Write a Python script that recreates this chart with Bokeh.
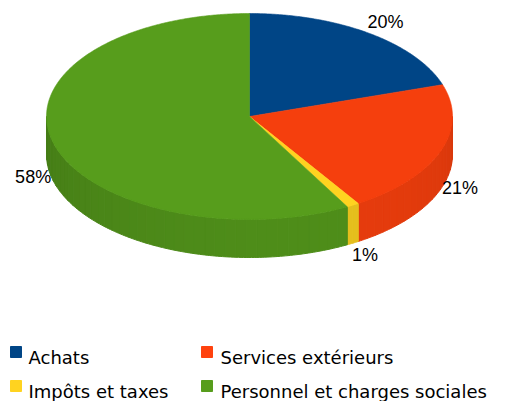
import numpy as np
from bokeh.plotting import figure
from bokeh.models import Range1d, ColumnDataSource
from bokeh.embed import file_html
from bokeh.resources import INLINE
from bokeh.core.properties import value

# ---- data ----
categories = ["Achats", "Services extérieurs", "Impôts et taxes", "Personnel et charges sociales"]
values = [20, 21, 1, 58]
pct_labels = ["20%", "21%", "1%", "58%"]
colors = ["#004586", "#ff420e", "#ffd320", "#579d1c"]

# ---- geometry (screen pixels) ----
CX, CY = 249.0, 116.0
RX, RY = 203.0, 103.0
DEPTH = 38.0


def shade(hx, f):
    r, g, b = int(hx[1:3], 16), int(hx[3:5], 16), int(hx[5:7], 16)
    return "#%02x%02x%02x" % tuple(max(0, min(255, int(round(c * f)))) for c in (r, g, b))


def ex(t):
    return CX + RX * np.cos(np.radians(t))


def ey(t):
    return CY - RY * np.sin(np.radians(t))


top_fac = [1.0, 0.96, 1.0, 1.0]

total = float(sum(values))
cum = np.concatenate([[0.0], np.cumsum(values)]) / total
starts = 90.0 - 360.0 * cum[:-1]
ends = 90.0 - 360.0 * cum[1:]

# walls (front half), split into strips for shading
wx, wy, wc = [], [], []
for i in range(len(values)):
    a1 = min(starts[i], 0.0)
    a2 = max(ends[i], -180.0)
    if a1 <= a2:
        continue
    n = max(1, int(np.ceil((a1 - a2) / 3.0)))
    edges = np.linspace(a1, a2, n + 1)
    for k in range(n):
        t = np.linspace(edges[k], edges[k + 1], 5)
        xs = list(ex(t)) + list(ex(t[::-1]))
        ys = list(ey(t)) + list(ey(t[::-1]) + DEPTH)
        mid = np.radians(0.5 * (edges[k] + edges[k + 1]))
        f = 0.82 + 0.08 * np.cos(mid - np.radians(-70.0))
        wx.append(xs)
        wy.append(ys)
        wc.append(shade(colors[i], f))

# tops
tx, ty, tc = [], [], []
for i in range(len(values)):
    t = np.linspace(starts[i], ends[i], max(3, int(abs(starts[i] - ends[i]) * 2)))
    tx.append([CX] + list(ex(t)))
    ty.append([CY] + list(ey(t)))
    tc.append(shade(colors[i], top_fac[i]))

# percentage labels
lx, ly = [], []
for i in range(len(values)):
    m = np.radians(0.5 * (starts[i] + ends[i]))
    c, s = np.cos(m), np.sin(m)
    w = 12.0 * len(pct_labels[i])
    h = 20.0
    k = 1.04
    x = CX + RX * k * c + 0.33 * w * np.sign(c)
    y = CY - RY * k * s - 0.5 * h * s
    if s < 0:
        y += DEPTH * min(1.0, 0.75 + 0.27 * abs(s))
    lx.append(x)
    ly.append(y)

p = figure(width=496, height=401, x_range=Range1d(0, 496), y_range=Range1d(401, 0),
           output_backend="svg", toolbar_location=None, min_border=0)
p.axis.visible = False
p.grid.visible = False
p.outline_line_color = None
p.background_fill_color = "white"
p.border_fill_color = "white"

p.patches(xs="xs", ys="ys", source=ColumnDataSource(dict(xs=wx, ys=wy, c=wc)),
          fill_color="c", line_color="c", line_width=1.0)
p.patches(xs="xs", ys="ys", source=ColumnDataSource(dict(xs=tx, ys=ty, c=tc)),
          fill_color="c", line_color="c", line_width=0.6)

p.text(x=lx, y=ly, text=pct_labels, text_font=value("Liberation Sans"),
       text_font_size="18px", text_align="center", text_baseline="middle", text_color="#000000")

# legend (2 columns x 2 rows)
sq_x, sq_y, lt_x, lt_y = [], [], [], []
for i in range(len(categories)):
    col, row = i % 2, i // 2
    sq_x.append(15.5 + 191.0 * col)
    sq_y.append(351.5 + 34.0 * row)
    lt_x.append(28.0 + 192.0 * col)
    lt_y.append(357.0 + 34.0 * row)
p.scatter(x=sq_x, y=sq_y, marker="square", size=11, fill_color=colors, line_color=colors)
p.text(x=lt_x, y=lt_y, text=categories, text_font=value("DejaVu Sans"),
       text_font_size="18px", text_align="left", text_baseline="alphabetic", text_color="#000000")

open("out.html", "w").write(file_html(p, INLINE))
